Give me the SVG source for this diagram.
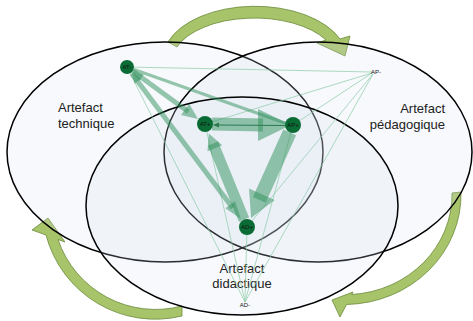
<svg xmlns="http://www.w3.org/2000/svg" width="473" height="321" viewBox="0 0 473 321">
<defs>
<style>
.set{fill:#d6e0ee;fill-opacity:0.2;stroke:#000;stroke-width:1.5}
.lbl{font-family:"Liberation Sans",Arial,sans-serif;font-size:13px;fill:#222}
.thin{stroke:#8ccaa6;stroke-width:1;opacity:0.7;fill:none}
.band{fill:#2f8f5b;fill-opacity:0.5;stroke:none}
.shaft{stroke:#2f8f5b;stroke-opacity:0.5;fill:none}
.back{stroke:#2a7a4e;stroke-width:1.2;fill:none}
.backhead{fill:#2a7a4e}
.node circle{fill:#0b6b35}
.node text, .tag{font-family:"Liberation Sans",Arial,sans-serif;font-size:6px;fill:#111;text-anchor:middle}
.cyc{fill:#a8c46a;stroke:#6a8a3a;stroke-width:0.8}
</style>
</defs>
<rect width="473" height="321" fill="#fff"/>

<g id="cycle-arrows">
<path class="cyc" d="M168,42 A92 53 0 0 1 340,39 L350,36 L345,56 L317,43 L326,40 A82 43 0 0 0 177,47 Z"/>
<path class="cyc" d="M461,192 A117 110 0 0 1 346.5,304.5 L340,317 L332,300 L353,292 L351.7,294.5 A107 100 0 0 0 452,193 Z"/>
<path class="cyc" d="M182,316 A113 113 0 0 1 46,235 L32,230 L48,218 L65,242 L58,239.5 A103 103 0 0 0 182,306 Z"/>
</g>

<g id="set-technique">
<ellipse class="set" cx="165" cy="152" rx="158" ry="110"/>
<text class="lbl" x="58" y="112">Artefact</text>
<text class="lbl" x="58" y="128">technique</text>
</g>
<g id="set-pedagogique">
<ellipse class="set" cx="318" cy="152" rx="154" ry="110"/>
<text class="lbl" x="445" y="113" text-anchor="end">Artefact</text>
<text class="lbl" x="445" y="129" text-anchor="end">pédagogique</text>
</g>
<g id="set-didactique">
<ellipse class="set" cx="242" cy="206" rx="156" ry="109"/>
<text class="lbl" x="242" y="273" text-anchor="middle">Artefact</text>
<text class="lbl" x="242" y="288" text-anchor="middle">didactique</text>
</g>

<g id="connectors">
<line class="thin" x1="127" y1="67" x2="372" y2="72"/>
<line class="thin" x1="372" y1="73" x2="205" y2="124"/>
<line class="thin" x1="372" y1="73" x2="293" y2="125"/>
<line class="thin" x1="373" y1="74" x2="247" y2="227"/>
<line class="thin" x1="245" y1="302" x2="127" y2="67"/>
<line class="thin" x1="245" y1="302" x2="205" y2="124"/>
<line class="thin" x1="245" y1="302" x2="293" y2="125"/>
<line class="thin" x1="245" y1="302" x2="247" y2="227"/>
<line class="thin" x1="245" y1="302" x2="373" y2="74"/>

<line class="shaft" x1="134" y1="69.5" x2="285" y2="123" stroke-width="3" stroke-opacity="0.45"/>

<line class="shaft" x1="132.6" y1="71.1" x2="188.3" y2="111.8" stroke-width="5"/>
<polygon class="band" points="181,115.1 189.2,103.8 198,118.9"/>
<line class="shaft" x1="131.8" y1="73.4" x2="232.6" y2="207.8" stroke-width="5"/>
<polygon class="band" points="225.4,208.2 235,201 241,219"/>
<polygon class="band" points="131.8,73.4 134.6,83.8 141,79"/>
<polygon class="band" points="132.6,71.1 139.1,80.8 143.9,74.4"/>

<line class="shaft" x1="212" y1="124" x2="263" y2="125" stroke-width="13"/>
<polygon class="band" points="258,109 258,141 291,125"/>
<line class="back" x1="285" y1="125.5" x2="218" y2="125"/>
<polygon class="backhead" points="213,125 219,122.5 219,127.5"/>

<line class="shaft" x1="289.7" y1="132.3" x2="259.3" y2="199.8" stroke-width="14"/>
<polygon class="band" points="274.6,200.1 249,188.5 251.1,218"/>

<line class="shaft" x1="244" y1="219.6" x2="213" y2="143.7" stroke-width="11"/>
<polygon class="band" points="222.3,145.3 207.5,151.3 208.8,133.5"/>
</g>

<g id="node-AT-minus" class="node"><circle cx="127" cy="67" r="7"/><text x="127" y="69">AT-</text></g>
<g id="node-AT-plus" class="node"><circle cx="205" cy="124" r="8"/><text x="205" y="126">AT+</text></g>
<g id="node-AP-plus" class="node"><circle cx="293" cy="125" r="8"/><text x="293" y="127">AP+</text></g>
<g id="node-AD-plus" class="node"><circle cx="247" cy="227" r="8"/><text x="247" y="229">AD+</text></g>
<g id="node-AP-minus"><text class="tag" x="376" y="74">AP-</text></g>
<g id="node-AD-minus"><text class="tag" x="245" y="307">AD-</text></g>
</svg>
